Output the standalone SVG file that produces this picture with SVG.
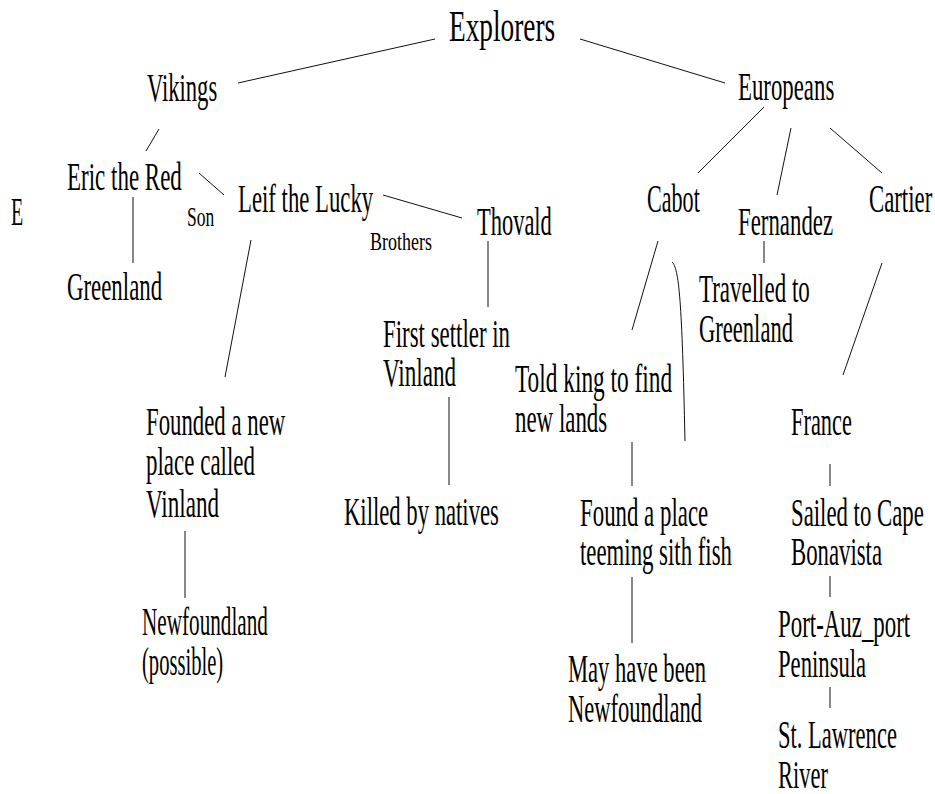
<svg xmlns="http://www.w3.org/2000/svg" width="935" height="794" viewBox="0 0 935 794">
<style>
text{font-family:"Liberation Serif","Times New Roman",serif;font-size:39px;fill:#000}
.big{font-size:45px}
.s1{font-size:28px}
.s2{font-size:25px}
#connectors line,#connectors path{stroke:#111;stroke-width:1;fill:none}
</style>
<rect width="935" height="794" fill="#fff"/>
<g id="connectors">
<line x1="435" y1="39" x2="238" y2="83"/>
<line x1="580" y1="39" x2="725" y2="83"/>
<line x1="159" y1="129" x2="146" y2="151"/>
<line x1="199" y1="173" x2="224" y2="195"/>
<line x1="383" y1="195" x2="462" y2="218"/>
<line x1="133" y1="197" x2="133" y2="263"/>
<line x1="251" y1="240" x2="225" y2="377"/>
<line x1="488" y1="241" x2="488" y2="307"/>
<line x1="449" y1="397" x2="449" y2="485"/>
<line x1="185" y1="531" x2="185" y2="598"/>
<line x1="764" y1="107" x2="698" y2="173"/>
<line x1="791" y1="128" x2="777" y2="195"/>
<line x1="830" y1="128" x2="882" y2="173"/>
<line x1="658" y1="241" x2="632" y2="330"/>
<path d="M672,262 C679,268 682,300 685,441"/>
<line x1="764" y1="241" x2="764" y2="263"/>
<line x1="882" y1="263" x2="843" y2="375"/>
<line x1="632" y1="442" x2="632" y2="486"/>
<line x1="830" y1="464" x2="830" y2="486"/>
<line x1="632" y1="577" x2="632" y2="643"/>
<line x1="830" y1="576" x2="830" y2="597"/>
<line x1="830" y1="687" x2="830" y2="708"/>
</g>
<g id="explorers"><text class="big" transform="translate(449 41) scale(0.58 1)" textLength="183" lengthAdjust="spacingAndGlyphs">Explorers</text></g>
<g id="vikings"><text transform="translate(147 101) scale(0.58 1)" textLength="121" lengthAdjust="spacingAndGlyphs">Vikings</text></g>
<g id="europeans"><text transform="translate(738 100) scale(0.58 1)" textLength="166" lengthAdjust="spacingAndGlyphs">Europeans</text></g>
<g id="eric"><text transform="translate(67 190) scale(0.58 1)" textLength="198" lengthAdjust="spacingAndGlyphs">Eric the Red</text></g>
<g id="e"><text transform="translate(11 225) scale(0.58 1)" textLength="21" lengthAdjust="spacingAndGlyphs">E</text></g>
<g id="son"><text class="s1" transform="translate(187 226) scale(0.58 1)" textLength="47" lengthAdjust="spacingAndGlyphs">Son</text></g>
<g id="leif"><text transform="translate(238 212) scale(0.58 1)" textLength="233" lengthAdjust="spacingAndGlyphs">Leif the Lucky</text></g>
<g id="brothers"><text class="s2" transform="translate(370 250) scale(0.58 1)" textLength="107" lengthAdjust="spacingAndGlyphs">Brothers</text></g>
<g id="thovald"><text transform="translate(477 235) scale(0.58 1)" textLength="129" lengthAdjust="spacingAndGlyphs">Thovald</text></g>
<g id="cabot"><text transform="translate(647 212) scale(0.58 1)" textLength="91" lengthAdjust="spacingAndGlyphs">Cabot</text></g>
<g id="fernandez"><text transform="translate(738 235) scale(0.58 1)" textLength="164" lengthAdjust="spacingAndGlyphs">Fernandez</text></g>
<g id="cartier"><text transform="translate(869 212) scale(0.58 1)" textLength="109" lengthAdjust="spacingAndGlyphs">Cartier</text></g>
<g id="greenland1"><text transform="translate(67 300) scale(0.58 1)" textLength="164" lengthAdjust="spacingAndGlyphs">Greenland</text></g>
<g id="travelled">
<text transform="translate(699 302) scale(0.58 1)" textLength="191" lengthAdjust="spacingAndGlyphs">Travelled to</text>
<text transform="translate(699 342) scale(0.58 1)" textLength="162" lengthAdjust="spacingAndGlyphs">Greenland</text>
</g>
<g id="firstsettler">
<text transform="translate(383 347) scale(0.58 1)" textLength="219" lengthAdjust="spacingAndGlyphs">First settler in</text>
<text transform="translate(383 386) scale(0.58 1)" textLength="126" lengthAdjust="spacingAndGlyphs">Vinland</text>
</g>
<g id="toldking">
<text transform="translate(515 392) scale(0.58 1)" textLength="271" lengthAdjust="spacingAndGlyphs">Told king to find</text>
<text transform="translate(515 432) scale(0.58 1)" textLength="159" lengthAdjust="spacingAndGlyphs">new lands</text>
</g>
<g id="founded">
<text transform="translate(146 435) scale(0.58 1)" textLength="240" lengthAdjust="spacingAndGlyphs">Founded a new</text>
<text transform="translate(146 475) scale(0.58 1)" textLength="188" lengthAdjust="spacingAndGlyphs">place called</text>
<text transform="translate(146 517) scale(0.58 1)" textLength="126" lengthAdjust="spacingAndGlyphs">Vinland</text>
</g>
<g id="france"><text transform="translate(791 435) scale(0.58 1)" textLength="105" lengthAdjust="spacingAndGlyphs">France</text></g>
<g id="killed"><text transform="translate(344 525) scale(0.58 1)" textLength="267" lengthAdjust="spacingAndGlyphs">Killed by natives</text></g>
<g id="foundplace">
<text transform="translate(580 526) scale(0.58 1)" textLength="221" lengthAdjust="spacingAndGlyphs">Found a place</text>
<text transform="translate(580 565) scale(0.58 1)" textLength="262" lengthAdjust="spacingAndGlyphs">teeming sith fish</text>
</g>
<g id="sailed">
<text transform="translate(791 526) scale(0.58 1)" textLength="229" lengthAdjust="spacingAndGlyphs">Sailed to Cape</text>
<text transform="translate(791 565) scale(0.58 1)" textLength="157" lengthAdjust="spacingAndGlyphs">Bonavista</text>
</g>
<g id="newfoundland1">
<text transform="translate(142 635) scale(0.58 1)" textLength="217" lengthAdjust="spacingAndGlyphs">Newfoundland</text>
<text transform="translate(142 675) scale(0.58 1)" textLength="140" lengthAdjust="spacingAndGlyphs">(possible)</text>
</g>
<g id="portauz">
<text transform="translate(778 637) scale(0.58 1)" textLength="228" lengthAdjust="spacingAndGlyphs">Port-Auz_port</text>
<text transform="translate(778 677) scale(0.58 1)" textLength="152" lengthAdjust="spacingAndGlyphs">Peninsula</text>
</g>
<g id="mayhave">
<text transform="translate(568 682) scale(0.58 1)" textLength="238" lengthAdjust="spacingAndGlyphs">May have been</text>
<text transform="translate(568 722) scale(0.58 1)" textLength="231" lengthAdjust="spacingAndGlyphs">Newfoundland</text>
</g>
<g id="stlawrence">
<text transform="translate(778 748) scale(0.58 1)" textLength="205" lengthAdjust="spacingAndGlyphs">St. Lawrence</text>
<text transform="translate(778 788) scale(0.58 1)" textLength="86" lengthAdjust="spacingAndGlyphs">River</text>
</g>
</svg>
